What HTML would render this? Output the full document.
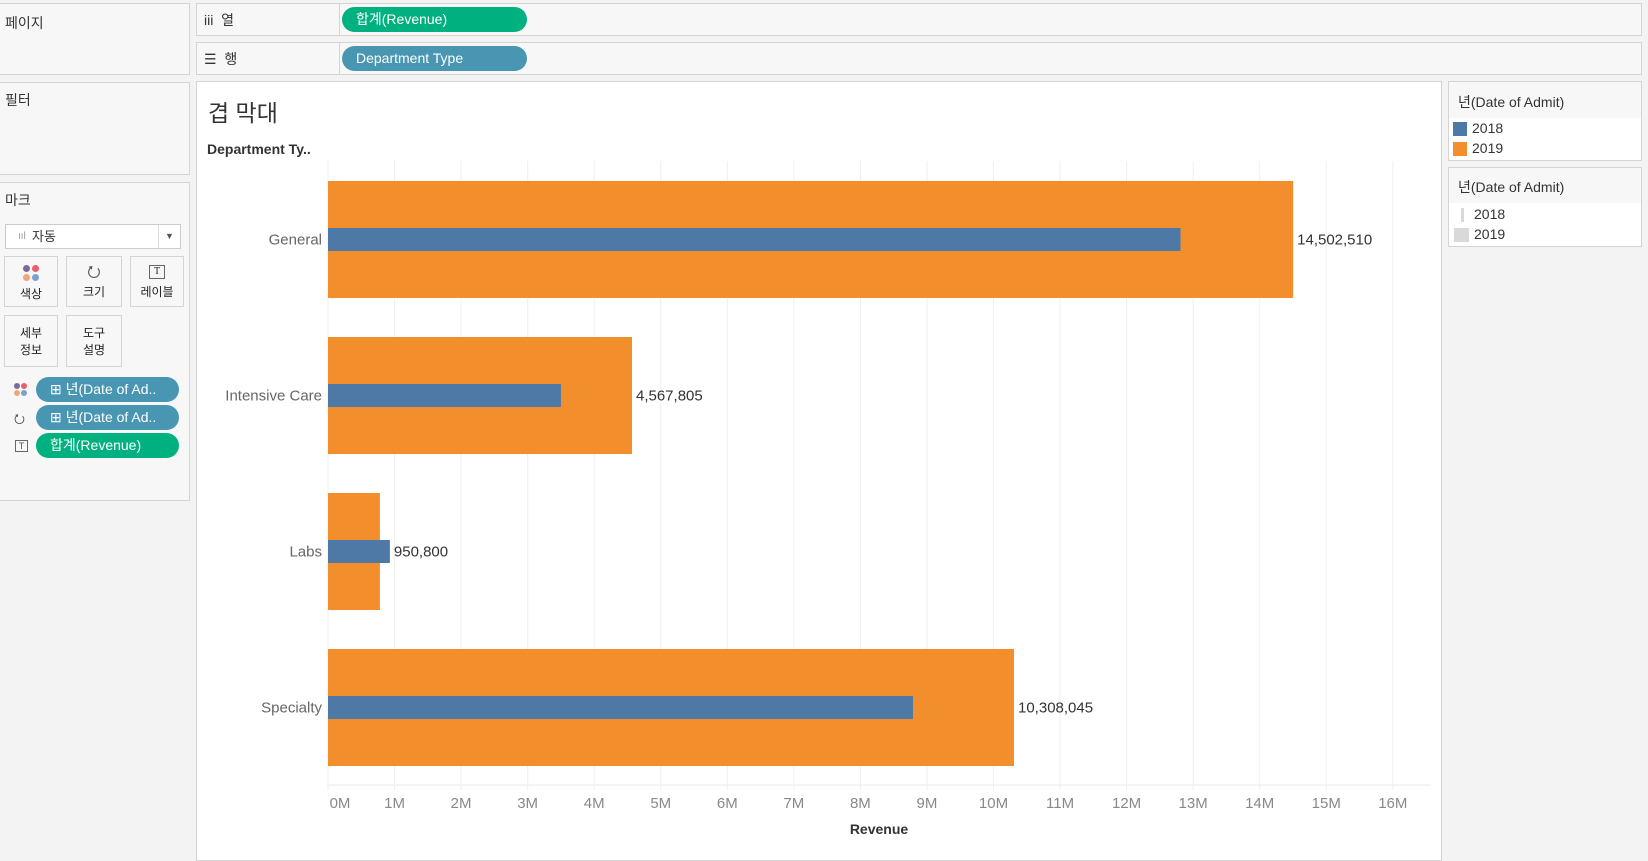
<!DOCTYPE html>
<html><head><meta charset="utf-8">
<style>
*{box-sizing:border-box;margin:0;padding:0}
body{width:1648px;height:856px;background:#f3f3f3;font-family:"Liberation Sans","Noto Sans CJK KR",sans-serif;position:relative;overflow:hidden;color:#333}
.abs{position:absolute}
.panel{position:absolute;background:#f7f7f7;border:1px solid #d4d4d4}
.pill{position:absolute;border-radius:13px;color:#fff;font-size:14px;padding-left:14px;line-height:25px;white-space:nowrap}
.green{background:#00b180}
.blue{background:#4996b2}
.btn{position:absolute;border:1px solid #d4d4d4;background:#f7f7f7;font-size:12px;text-align:center;color:#222}
</style></head><body>
<div class="panel" style="left:-2px;top:3px;width:192px;height:72px"><span class="abs" style="left:6px;top:9px;font-size:14px">페이지</span></div>
<div class="panel" style="left:-2px;top:82px;width:192px;height:93px"><span class="abs" style="left:6px;top:7px;font-size:14px">필터</span></div>
<div class="panel" style="left:-2px;top:182px;width:192px;height:319px">
 <span class="abs" style="left:6px;top:7px;font-size:14px">마크</span>
 <div class="abs" style="left:6px;top:41px;width:176px;height:25px;border:1px solid #ccc;background:#fff;font-size:13px;line-height:23px;padding-left:26px">자동<span class="abs" style="left:12px;top:0;color:#999;font-size:10px">ııl</span><span class="abs" style="right:0;top:0;width:22px;border-left:1px solid #ddd;text-align:center;font-size:9px;color:#555">▼</span></div>
</div>
<div class="btn" style="left:4px;top:256px;width:54px;height:51px"><div style="margin:8px auto 0;width:16px;height:16px;position:relative"><i class="abs" style="left:0;top:0;width:7px;height:7px;border-radius:50%;background:#7b6a9c"></i><i class="abs" style="left:9px;top:0;width:7px;height:7px;border-radius:50%;background:#e8606a"></i><i class="abs" style="left:0;top:9px;width:7px;height:7px;border-radius:50%;background:#f3a57a"></i><i class="abs" style="left:9px;top:9px;width:7px;height:7px;border-radius:50%;background:#7aa1cf"></i></div><div style="margin-top:4px">색상</div></div>
<div class="btn" style="left:66px;top:256px;width:56px;height:51px"><div style="height:26px;padding-top:4px;color:#555;font-size:16px">&#x2B6E;</div><div>크기</div></div>
<div class="btn" style="left:130px;top:256px;width:54px;height:51px"><div style="margin:8px auto 0;width:16px;height:14px;border:1px solid #666;font-size:10px;line-height:12px;font-family:'Liberation Serif',serif">T</div><div style="margin-top:4px">레이블</div></div>
<div class="btn" style="left:4px;top:315px;width:54px;height:52px;padding-top:9px;line-height:17px">세부<br>정보</div>
<div class="btn" style="left:66px;top:315px;width:56px;height:52px;padding-top:9px;line-height:17px">도구<br>설명</div>
<div class="abs" style="left:14px;top:383px;width:14px;height:14px"><i class="abs" style="left:0;top:0;width:6px;height:6px;border-radius:50%;background:#7b6a9c"></i><i class="abs" style="left:7px;top:0;width:6px;height:6px;border-radius:50%;background:#e8606a"></i><i class="abs" style="left:0;top:7px;width:6px;height:6px;border-radius:50%;background:#f3a57a"></i><i class="abs" style="left:7px;top:7px;width:6px;height:6px;border-radius:50%;background:#7aa1cf"></i></div>
<div class="pill blue" style="left:36px;top:377px;width:143px">⊞ 년(Date of Ad..</div>
<div class="abs" style="left:14px;top:410px;font-size:13px;color:#555">&#x2B6E;</div>
<div class="pill blue" style="left:36px;top:405px;width:143px">⊞ 년(Date of Ad..</div>
<div class="abs" style="left:15px;top:440px;width:13px;height:12px;border:1px solid #666;font-size:9px;line-height:10px;text-align:center;color:#555">T</div>
<div class="pill green" style="left:36px;top:433px;width:143px">합계(Revenue)</div>

<div class="panel" style="left:196px;top:3px;width:1446px;height:33px;background:#f7f7f7"><span class="abs" style="left:7px;top:6px;font-size:14px">iii&nbsp; 열</span><div class="abs" style="left:142px;top:0;height:31px;border-left:1px solid #d4d4d4"></div></div>
<div class="pill green" style="left:342px;top:7px;width:185px">합계(Revenue)</div>
<div class="panel" style="left:196px;top:42px;width:1446px;height:33px"><span class="abs" style="left:7px;top:6px;font-size:14px">☰&nbsp; 행</span><div class="abs" style="left:142px;top:0;height:31px;border-left:1px solid #d4d4d4"></div></div>
<div class="pill blue" style="left:342px;top:46px;width:185px">Department Type</div>

<div class="abs" style="left:196px;top:81px;width:1246px;height:780px;background:#fff;border:1px solid #d4d4d4"></div>
<div class="abs" style="left:208px;top:94px;font-size:23px;color:#333">겹 막대</div>
<div class="abs" style="left:207px;top:141px;font-size:14px;font-weight:bold;color:#333">Department Ty..</div>
<div class="abs" style="left:829px;top:821px;width:100px;text-align:center;font-size:14px;font-weight:bold;color:#333">Revenue</div>

<svg class="abs" style="left:0;top:0" width="1648" height="856" id="chart"></svg>

<div class="panel" style="left:1448px;top:81px;width:194px;height:80px">
 <div class="abs" style="left:0;top:36px;width:192px;height:42px;background:#fff"></div>
 <span class="abs" style="left:9px;top:10px;font-size:14px">년(Date of Admit)</span>
 <i class="abs" style="left:4px;top:40px;width:14px;height:14px;background:#4e79a7"></i><span class="abs" style="left:23px;top:38px;font-size:14px">2018</span>
 <i class="abs" style="left:4px;top:60px;width:14px;height:14px;background:#f28e2b"></i><span class="abs" style="left:23px;top:58px;font-size:14px">2019</span>
</div>
<div class="panel" style="left:1448px;top:167px;width:194px;height:80px">
 <div class="abs" style="left:0;top:35px;width:192px;height:43px;background:#fff"></div>
 <span class="abs" style="left:9px;top:9px;font-size:14px">년(Date of Admit)</span>
 <i class="abs" style="left:12px;top:40px;width:3px;height:14px;background:#d9d9d9"></i><span class="abs" style="left:25px;top:38px;font-size:14px">2018</span>
 <i class="abs" style="left:5px;top:60px;width:15px;height:14px;background:#d9d9d9"></i><span class="abs" style="left:25px;top:58px;font-size:14px">2019</span>
</div>

<script>
const categories = ["General","Intensive Care","Labs","Specialty"];
const revenue2018 = [12810000,3500000,930000,8790000];
const revenue2019 = [14502510,4567805,780000,10308045];
const valueLabels = ["14,502,510","4,567,805","950,800","10,308,045"];
const tickValues = [0,1,2,3,4,5,6,7,8,9,10,11,12,13,14,15,16];
const tickLabels = ["0M","1M","2M","3M","4M","5M","6M","7M","8M","9M","10M","11M","12M","13M","14M","15M","16M"];

const NS="http://www.w3.org/2000/svg";
const svg=document.getElementById('chart');
const x0=328, pxPerM=66.55;
const xScale=v=>x0+v/1e6*pxPerM;
const bandTop=i=>181+i*156;
function mk(tag,attrs,txt){const e=document.createElementNS(NS,tag);for(const k in attrs)e.setAttribute(k,attrs[k]);if(txt!==undefined)e.textContent=txt;svg.appendChild(e);return e;}

tickValues.forEach((t,i)=>{
  const x=xScale(t*1e6);
  const g=mk('line',{x1:x,x2:x,y1:161,y2:790,stroke:'#efefef','stroke-width':1});
  
  
  const tl=mk('text',{x:x+ (i===0?12:0),y:808,'text-anchor':'middle','font-size':15,fill:'#888','font-family':'Liberation Sans, sans-serif'},tickLabels[i]);
  
  
});
const ax=mk('line',{x1:x0,x2:1431,y1:785,y2:785,stroke:'#eaeaea','stroke-width':1});



categories.forEach((c,i)=>{
  const top=bandTop(i), mid=top+58.5;
  const o=mk('rect',{x:x0,y:top,width:xScale(revenue2019[i])-x0,height:117,fill:'#f28e2b'});
  
  
  const b=mk('rect',{x:x0,y:mid-11.5,width:xScale(revenue2018[i])-x0,height:23,fill:'#4e79a7'});
  
  
  const cl=mk('text',{x:322,y:mid+5,'text-anchor':'end','font-size':15,fill:'#666','font-family':'Liberation Sans, sans-serif'},c);
  
  
  const end=Math.max(xScale(revenue2018[i]),xScale(revenue2019[i]));
  const vl=mk('text',{x:end+4,y:mid+5,'font-size':15,fill:'#333','font-family':'Liberation Sans, sans-serif'},valueLabels[i]);
  
  
});
</script>
</body></html>
